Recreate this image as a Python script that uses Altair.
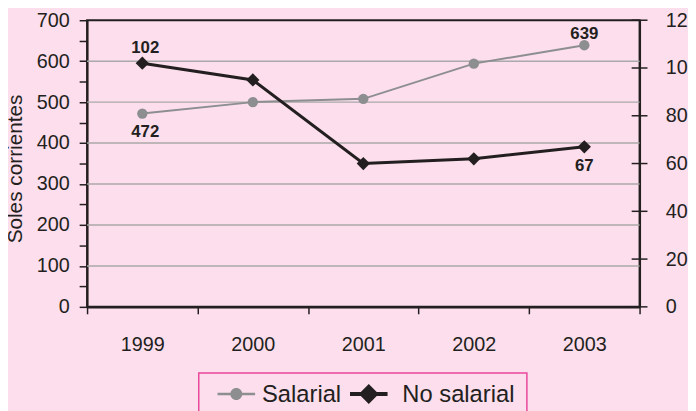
import altair as alt
import pandas as pd

# ---- data ----
years = [1999, 2000, 2001, 2002, 2003]
salarial = [472, 500, 508, 594, 639]
no_salarial = [102, 95, 60, 62, 67]
series = ["Salarial", "No salarial"]
left_ticks = list(range(0, 701, 50))
grid_values = [100, 200, 300, 400, 500, 600]
right_ticks = list(range(0, 121, 20))
x_edges = [1998.5, 1999.5, 2000.5, 2001.5, 2002.5, 2003.5]

# ---- style ----
W, H = 559, 290
FONT = "Liberation Sans Narrow, Arial Narrow, Liberation Sans, sans-serif"
DARK = "#231f20"
GRAY = "#8c8e90"
GRID = "#aaa8a9"
BG = "#fcdeec"
PINK = "#e8489c"

# legend symbols: a line with a marker (unit = sqrt(size)/2 px = 19 px);
# the empty sub-paths only widen the legend frame.
PATH_SAL = ("M-1,-0.12H1V0.02H-1Z "
            "M0.32,-0.05A0.32,0.32 0 1,1 -0.32,-0.05A0.32,0.32 0 1,1 0.32,-0.05Z "
            "M0,1.3Z")
PATH_NS = ("M-1.42,-0.155H0.58V0.055H-1.42Z "
           "M-0.42,-0.58L0.11,-0.05L-0.42,0.48L-0.95,-0.05Z "
           "M0,1.3Z M7.83,0Z")

df = pd.DataFrame({"year": years, "salarial": salarial, "no_salarial": no_salarial})
grid_df = pd.DataFrame({"g": grid_values})
rtick_df = pd.DataFrame({"t": right_ticks, "edge": [x_edges[-1]] * len(right_ticks)})
legend_df = pd.DataFrame({"serie": series})

xaxis = alt.Axis(
    values=x_edges,
    labelExpr="datum.value < 2003 ? format(datum.value + 0.5, 'd') : ''",
    labelOffset=W / 10, labelFlush=False, labelOverlap=False,
    tickSize=7, tickColor=DARK, tickWidth=1.5,
    domainColor=DARK, domainWidth=2.5,
    labelPadding=21, grid=False, title=None,
    labelFontSize=20, labelFont=FONT, labelColor=DARK,
)
xscale = alt.Scale(domain=[1998.5, 2003.5], nice=False, zero=False)


def xe(field="year"):
    return alt.X(f"{field}:Q", scale=xscale, axis=xaxis)


yl_scale = alt.Scale(domain=[0, 700], nice=False)
yl_axis = alt.Axis(
    orient="left", values=left_ticks,
    labelExpr="datum.value % 100 == 0 ? datum.label : ''",
    labelOverlap=False, grid=False,
    tickSize=8, tickColor=DARK, tickWidth=1.5,
    domainColor=DARK, domainWidth=2,
    labelPadding=10, labelFontSize=20, labelFont=FONT, labelColor=DARK,
    title="Soles corrientes", titleFont=FONT, titleFontSize=21,
    titleFontWeight="normal", titleColor=DARK,
    titleX=-62, titleY=150, titleAngle=270, titleBaseline="bottom", titleAlign="center",
)
yr_scale = alt.Scale(domain=[0, 120], nice=False)
yr_axis = alt.Axis(
    orient="right", values=right_ticks, labelOverlap=False, grid=False,
    ticks=False, domainColor=DARK, domainWidth=2,
    labelPadding=26, labelFontSize=20, labelFont=FONT, labelColor=DARK,
    title=None,
)


def yl(field):
    return alt.Y(f"{field}:Q", scale=yl_scale, axis=yl_axis)


def yr(field):
    return alt.Y(f"{field}:Q", scale=yr_scale, axis=yr_axis)


base = alt.Chart(df)

grid = alt.Chart(grid_df).mark_rule(color=GRID, strokeWidth=1.5).encode(y=yl("g"))

sal_line = base.mark_line(color=GRAY, strokeWidth=2).encode(x=xe(), y=yl("salarial"))
sal_pts = base.mark_point(filled=True, shape="circle", size=110, color=GRAY, opacity=1).encode(
    x=xe(), y=yl("salarial"))
lbl_style = dict(font=FONT, fontSize=17, fontWeight="bold", color=DARK)
sal_first = base.transform_filter(alt.datum.year == years[0]).mark_text(
    dy=19, dx=3, **lbl_style).encode(x=xe(), y=yl("salarial"), text="salarial:Q")
sal_last = base.transform_filter(alt.datum.year == years[-1]).mark_text(
    dy=-11, **lbl_style).encode(x=xe(), y=yl("salarial"), text="salarial:Q")

# right-axis ticks that cross the axis line
rticks = alt.Chart(rtick_df).mark_tick(
    orient="horizontal", size=16, thickness=1.5, color=DARK, opacity=1).encode(
    x=xe("edge"), y=yr("t"))
ns_line = base.mark_line(color=DARK, strokeWidth=3).encode(x=xe(), y=yr("no_salarial"))
ns_pts = base.mark_point(filled=True, shape="diamond", size=180, color=DARK, opacity=1).encode(
    x=xe(), y=yr("no_salarial"))
ns_first = base.transform_filter(alt.datum.year == years[0]).mark_text(
    dy=-15, dx=3, **lbl_style).encode(x=xe(), y=yr("no_salarial"), text="no_salarial:Q")
ns_last = base.transform_filter(alt.datum.year == years[-1]).mark_text(
    dy=19, **lbl_style).encode(x=xe(), y=yr("no_salarial"), text="no_salarial:Q")

leg = alt.Legend(
    title=None, orient="none", legendX=113, legendY=357, direction="horizontal",
    strokeColor=PINK, padding=3,
    symbolSize=1444, symbolStrokeWidth=0, symbolOffset=16, symbolOpacity=1,
    labelFont=FONT, labelFontSize=24, labelColor=DARK, labelOffset=7,
    columnPadding=0,
)
legend_layer = alt.Chart(legend_df).transform_filter("false").mark_point(
    filled=True, opacity=1).encode(
    color=alt.Color("serie:N", scale=alt.Scale(domain=series, range=[GRAY, DARK]), legend=leg),
    shape=alt.Shape("serie:N", scale=alt.Scale(domain=series, range=[PATH_SAL, PATH_NS]), legend=leg),
)

left = alt.layer(grid, sal_line, sal_pts, sal_first, sal_last)
right = alt.layer(rticks, ns_line, ns_pts, ns_first, ns_last)

chart = alt.layer(left, right, legend_layer).resolve_scale(y="independent").properties(
    width=W, height=H, background=BG,
    padding={"left": 80, "top": 10, "right": 49, "bottom": 103},
    autosize=alt.AutoSizeParams(type="none"),
).configure_view(stroke=DARK, strokeWidth=2).configure_legend(strokeWidth=1.5)

chart.save("out.html", embed_options={"renderer": "svg", "actions": False})
